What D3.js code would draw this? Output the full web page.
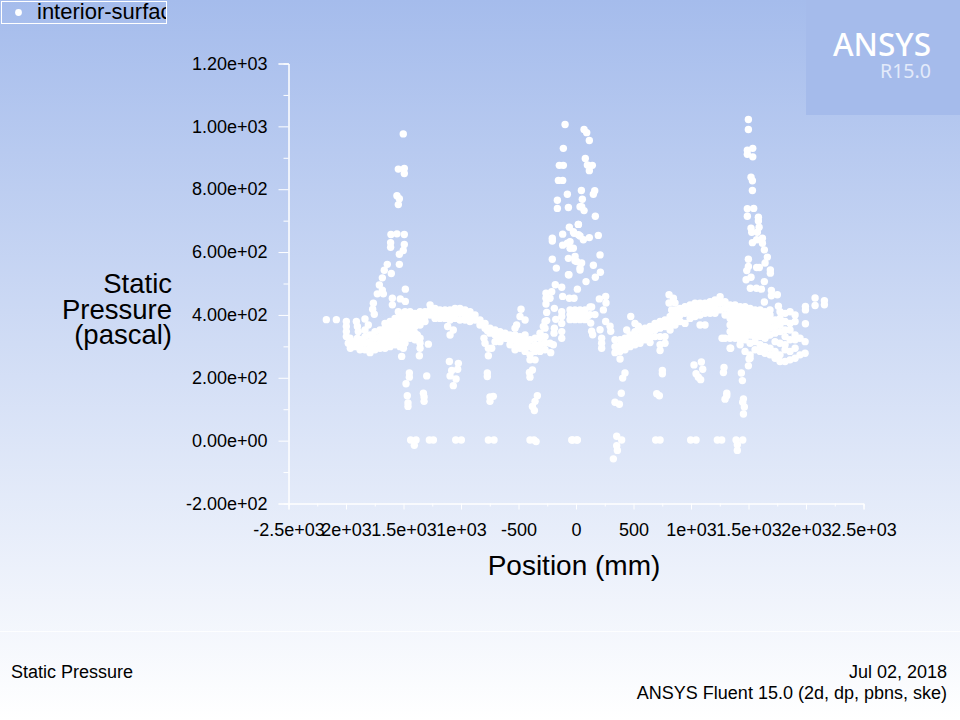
<!DOCTYPE html>
<html>
<head>
<meta charset="utf-8">
<script src="https://cdn.jsdelivr.net/npm/d3@7"></script>
<style>
  html, body { margin: 0; padding: 0; background: #fff; }
  svg { display: block; }
  text { font-family: "Liberation Sans", Arial, sans-serif; fill: #000; }
</style>
</head>
<body>
<div id="chart"></div>
<script>
// Tick values and their labels, as printed on the plot
const xTicks = [-2500, -2000, -1500, -1000, -500, 0, 500, 1000, 1500, 2000, 2500];
const xTickLabels = ["-2.5e+03", "2e+03", "1.5e+03", "1e+03", "-500", "0", "500", "1e+03", "1.5e+03", "2e+03", "2.5e+03"];
const xMinorTicks = [-2250, -1750, -1250, -750, -250, 250, 750, 1250, 1750, 2250];
const yTicks = [-200, 0, 200, 400, 600, 800, 1000, 1200];
const yTickLabels = ["-2.00e+02", "0.00e+00", "2.00e+02", "4.00e+02", "6.00e+02", "8.00e+02", "1.00e+03", "1.20e+03"];
const yMinorTicks = [-100, 100, 300, 500, 700, 900, 1100];

// Points: [position mm, static pressure Pa]
const leftSpike = [
  [-1502,976],[-1545,864],[-1493,866],[-1493,850],[-1557,779],[-1536,770],[-1545,751],[-1609,656],[-1557,658],[-1493,656],
  [-1612,630],[-1612,615],[-1493,624],[-1502,605],[-1536,593],[-1536,561],[-1641,561],[-1667,542],[-1606,532],[-1684,518],
  [-1710,495],[-1684,479],[-1728,467],[-1675,467],[-1484,482],[-1597,453],[-1528,451],[-1484,443],[-1762,437],[-1597,432],
  [-1768,418],[-1754,402],[-1545,410],[-2171,385],[-2084,385],[-1997,379],[-1910,379],[-1835,387],
  [-1997,363],[-1997,347],[-1997,331],[-1901,363],[-1893,347],[-1901,326],[-1835,352],[-1806,368]
];
const leftBand = [
  [-1980,310],[-1962,294],[-1965,326],[-1965,310],[-1922,315],[-1922,299],[-1878,321],[-1878,305],[-1878,289],
  [-1835,331],[-1835,310],[-1835,289],[-1791,336],[-1791,315],[-1791,294],[-1791,280],
  [-1748,347],[-1748,326],[-1748,305],[-1748,289],[-1704,352],[-1704,331],[-1704,310],[-1704,294],
  [-1661,373],[-1661,358],[-1661,336],[-1661,315],[-1661,294],[-1617,379],[-1617,358],[-1617,336],[-1617,315],[-1617,299],
  [-1574,389],[-1574,368],[-1574,347],[-1574,326],[-1574,305],[-1530,400],[-1530,379],[-1530,358],[-1530,336],[-1530,315],[-1530,299],
  [-1487,410],[-1487,389],[-1487,368],[-1487,347],[-1487,326],[-1487,310],[-1443,410],[-1443,389],[-1443,368],[-1443,347],[-1443,326],
  [-1400,405],[-1400,384],[-1400,363],[-1400,342],[-1400,321],[-1356,410],[-1356,389],[-1356,368],[-1356,326],[-1356,310],
  [-1313,410],[-1313,395],[-1313,379],[-1269,432],[-1269,416],[-1269,400],[-1226,421],[-1226,405],[-1226,389],
  [-1183,416],[-1183,400],[-1183,389],[-1139,416],[-1139,400],[-1139,389],[-1096,416],[-1096,400],[-1096,384],
  [-1052,421],[-1052,405],[-1052,389],[-1009,421],[-1009,405],[-1009,384],[-965,416],[-965,400],[-965,384],
  [-922,410],[-922,395],[-922,379],[-878,400],[-878,384],[-835,384],[-835,368],[-791,373],[-791,358],
  [-748,358],[-748,342],[-704,352],[-704,336],[-704,315],[-661,347],[-661,331],[-661,315],[-617,342],[-617,326],
  [-574,336],[-574,321],[-574,305],[-530,336],[-530,321],[-530,299],[-530,289],[-487,331],[-487,310],[-487,294],
  [-443,336],[-443,321],[-443,305],[-443,284],[-400,321],[-400,299],[-400,273],[-400,257],[-356,326],[-356,305],[-356,284],[-356,257],
  [-313,342],[-313,326],[-313,305],[-313,284],[-269,379],[-269,358],[-269,331],[-269,310],[-269,289],[-226,310]
];
const leftBlobFill = [
  [-1684,342],[-1684,321],[-1641,347],[-1641,326],[-1641,305],[-1597,368],[-1597,347],[-1597,326],[-1597,310],
  [-1554,379],[-1554,358],[-1554,336],[-1554,315],[-1510,400],[-1510,379],[-1510,358],[-1510,336],
  [-1467,400],[-1467,379],[-1467,358],[-1467,336],[-1423,400],[-1423,379],[-1423,358],[-1423,336],[-1380,400],[-1380,379],[-1380,336]
];
const leftDrops = [
  [-1284,307],[-1362,270],[-1356,294],[-1516,268],[-1501,294],[-1101,252],[-1023,246],[-1029,227],[-1081,223],[-1095,206],
  [-1043,196],[-1067,175],[-1116,363],[-1067,352],[-1095,336],[-1449,215],[-1449,202],[-1478,181],[-1298,206],[-1467,143],
  [-1461,120],[-1461,109],[-1327,151],[-1321,139],[-1321,125],[-771,215],[-771,204],[-719,141],[-748,139],[-748,125],
  [-379,225],[-405,217],[-400,202],[-336,143],[-356,125],[-379,109],[-362,96],[-800,326],[-791,310],[-762,270],[-733,294],[-762,294],
  [-478,418],[-487,395],[-443,384],[-516,368],[-530,358]
];
const midBandFill = [
  [-770,350],[-725,345],[-682,330],[-640,330],[-595,325],[-552,320],[-508,315],[-465,310],[-420,300],[-378,295],[-335,300]
];
const centerSpike = [
  [-95,1006],[-110,930],[-145,876],[-110,876],[-153,828],[-116,828],[-75,784],[-162,765],[-162,739],[-66,742],[35,744],
  [-206,644],[-206,635],[-116,657],[-58,679],[21,688],[-23,665],[21,655],[-116,622],[-75,628],[-52,612],[-66,580],[-8,586],[6,570],
  [-206,577],[-171,549],[-61,528],[35,549],[-180,496],[-124,488],[70,990],[93,980],[116,955],[81,898],[99,877],[142,876],[116,859],
  [47,796],[151,784],[163,795],[55,768],[49,744],[70,732],[168,714],[20,688],[-17,660],[35,651],[116,646],[194,653],[64,639],
  [-52,633],[-23,612],[209,591],[-9,572],[49,565],[151,558],[35,543],[-66,528],[212,536],[168,520],[87,506],[12,482],[-58,453],[-17,453],
  [-116,459],[203,451],[258,459],[261,438],[238,416],[136,425],[258,379],[128,374],[209,353],[296,364],[302,348],[136,348],[145,337],
  [-261,469],[-211,474],[-261,453],[-226,453],[-261,435],[-188,421],[-255,408],[-124,410],[-124,395],[-176,386],[-255,382],[-124,373],
  [-188,358],[-124,347],[-191,342],[-124,326],[-220,280],[-197,305],[-284,363],
  [-52,416],[-52,401],[-52,385],[-9,416],[-9,401],[-9,385],[35,416],[35,401],[35,385],[78,416],[78,401],[78,385],[122,425],[122,401],[165,401],
  [0,408],[57,408],[100,395]
];
const rightSpike = [
  [1499,1022],[1499,990],[1537,930],[1490,924],[1490,911],[1537,903],[1522,838],[1534,827],[1534,796],[1490,738],[1545,739],[1490,714],
  [1586,711],[1586,699],[1592,679],[1522,676],[1528,663],[1577,663],[1621,644],[1571,639],[1534,630],[1621,628],[1638,607],[1664,584],
  [1499,577],[1644,565],[1571,551],[1594,551],[1499,554],[1485,541],[1690,543],[1690,533],[1522,520],[1479,512],[1638,506],[1516,485],
  [1569,485],[1612,482],[1699,478],[1699,461],[1751,464],[1638,441],[1760,428],[2079,454],[2079,430],[2160,445],[2160,432],[1995,427],[1995,416],[1995,372]
];
const rightBand = [
  [809,464],[847,453],[809,438],[861,438],[832,416],[876,416],[476,395],[513,373],[542,364],[441,352],[223,326],[223,310],[223,294],
  [339,321],[339,299],[339,280],[383,321],[383,299],[383,284],[383,260],[426,326],[426,305],[426,289],[470,336],[470,315],[470,299],
  [513,347],[513,326],[513,305],[557,352],[557,331],[557,310],[600,358],[600,336],[600,321],[644,363],[644,347],[644,326],[644,312],
  [687,373],[687,352],[687,331],[731,379],[731,358],[731,331],[731,305],[731,287],[774,384],[774,363],[774,331],[774,310],
  [818,395],[818,373],[818,352],[861,410],[861,389],[861,368],[905,421],[905,400],[905,379],[948,426],[948,405],[948,373],
  [992,432],[992,410],[992,389],[1035,437],[1035,416],[1035,395],[1079,437],[1079,421],[1079,400],[1079,368],[1122,437],[1122,421],[1122,405],[1122,368],
  [1166,442],[1166,421],[1166,405],[1209,448],[1209,426],[1209,405],[1253,458],[1253,437],[1253,416],[1296,442],[1296,421],[1296,400],[1296,326],
  [1340,432],[1340,410],[1340,389],[1340,368],[1340,347],[1340,326],[1340,294],[1383,432],[1383,410],[1383,389],[1383,368],[1383,347],[1383,326],
  [1427,426],[1427,405],[1427,384],[1427,363],[1427,342],[1427,321],[1427,305],[1470,426],[1470,405],[1470,384],[1470,363],[1470,342],[1470,321],[1470,284],
  [1514,421],[1514,400],[1514,379],[1514,358],[1514,336],[1514,310],[1514,273],[1514,262],[1557,416],[1557,395],[1557,373],[1557,352],[1557,331],[1557,315],[1557,289],
  [1601,416],[1601,395],[1601,373],[1601,352],[1601,331],[1601,305],[1601,284],[1644,410],[1644,389],[1644,368],[1644,347],[1644,326],[1644,299],[1644,278],
  [1687,416],[1687,400],[1687,379],[1687,358],[1687,336],[1687,294],[1687,273],[1731,384],[1731,363],[1731,342],[1731,315],[1731,284],[1731,262],
  [1774,410],[1774,389],[1774,368],[1774,347],[1774,310],[1774,273],[1774,252],[1818,405],[1818,379],[1818,352],[1818,331],[1818,305],[1818,289],[1818,252],
  [1861,410],[1861,373],[1861,352],[1861,321],[1861,284],[1861,257],[1905,400],[1905,379],[1905,336],[1905,321],[1905,294],[1905,262],
  [1948,326],[1948,273],[1992,315],[1992,278],[1270,326],[1345,294],[1505,260],[1499,238]
];
const rightBandFill = [
  [361,300],[404,310],[448,315],[492,325],[535,330],[578,345],[622,350],[665,355],[709,365],[752,365],[796,380],[840,385],
  [883,400],[927,410],[970,415],[1014,420],[1057,425],[1100,425],[1144,430],[1187,435],[1231,440],
  [1360,421],[1360,400],[1360,379],[1360,358],[1360,336],[1403,421],[1403,400],[1403,379],[1403,358],[1403,336],
  [1447,421],[1447,400],[1447,379],[1447,358],[1447,336],[1490,421],[1490,400],[1490,379],[1490,358],[1490,336],
  [1534,410],[1534,400],[1534,379],[1534,358],[1534,336],[1577,400],[1577,379],[1577,358],[1577,336],
  [1621,400],[1621,379],[1621,358],[1621,336],[1664,379],[1664,358],[1664,336]
];
const rightDrops = [
  [426,215],[406,199],[751,223],[751,213],[1026,241],[1090,250],[1102,227],[1044,213],[1064,202],[1084,194],[1287,233],[1282,217],
  [1438,215],[1447,191],[394,151],[339,122],[377,116],[702,149],[725,143],[1311,151],[1311,143],[1296,132],[1456,133],[1450,122],[1464,107],[1456,85]
];
const zeroRow = [
  [-1438,2],[-1391,2],[-1406,-15],[-1275,2],[-1240,2],[-1046,2],[-997,2],[-762,2],[-713,2],[-400,2],[-365,2],[-347,-3],[-37,2],[6,2],
  [-29,2],[12,2],[354,14],[397,2],[354,-16],[360,-31],[325,-58],[693,2],[731,2],[997,2],[1044,2],[1229,2],[1267,2],[1392,2],[1450,2],[1403,-13],[1403,-31]
];

const width = 960, height = 720;
const points = [].concat(leftSpike, leftBand, leftBlobFill, leftDrops, midBandFill, centerSpike,
  rightSpike, rightBand, rightBandFill, rightDrops, zeroRow);

const svg = d3.select("#chart").append("svg")
  .attr("width", width)
  .attr("height", height);

// Background gradient
const gradient = svg.append("defs").append("linearGradient")
  .attr("id", "bg")
  .attr("x1", 0).attr("y1", 0).attr("x2", 0).attr("y2", 1);
gradient.append("stop").attr("offset", 0).attr("stop-color", "#a5bcec");
gradient.append("stop").attr("offset", 1).attr("stop-color", "#ffffff");
svg.append("rect").attr("width", width).attr("height", height).attr("fill", "url(#bg)");

// Logo panel
svg.append("rect").attr("x", 806).attr("y", 0).attr("width", 154).attr("height", 115).attr("fill", "#a5bbeb");
svg.append("text").attr("x", 833).attr("y", 56)
  .attr("textLength", 98).attr("lengthAdjust", "spacingAndGlyphs")
  .style("font-family", "'Noto Sans'").style("font-size", "33px").style("font-weight", 500)
  .style("fill", "#fff").text("ANSYS");
svg.append("text").attr("x", 880).attr("y", 78)
  .attr("textLength", 51).attr("lengthAdjust", "spacingAndGlyphs")
  .style("font-family", "'Noto Sans'").style("font-size", "20px")
  .style("fill", "#e3eafa").text("R15.0");

// Footer panel edge
svg.append("line").attr("x1", 0).attr("x2", width).attr("y1", 631.5).attr("y2", 631.5)
  .attr("stroke", "#ffffff").attr("stroke-opacity", 0.8);

// Scales
const x = d3.scaleLinear().domain([-2500, 2500]).range([288.5, 863.5]);
const y = d3.scaleLinear().domain([-200, 1200]).range([503.5, 63.5]);

// Axes
const yAxis = svg.append("g").attr("transform", "translate(288.5,0)")
  .call(d3.axisLeft(y).tickValues(yTicks).tickSize(10).tickPadding(11)
    .tickFormat((d, i) => yTickLabels[i]));
const yMinor = svg.append("g").attr("transform", "translate(288.5,0)")
  .call(d3.axisLeft(y).tickValues(yMinorTicks).tickSize(5).tickFormat(""));
const xAxis = svg.append("g").attr("transform", "translate(0,503.5)")
  .call(d3.axisBottom(x).tickValues(xTicks).tickSize(6).tickPadding(14)
    .tickFormat((d, i) => xTickLabels[i]));
const xMinor = svg.append("g").attr("transform", "translate(0,503.5)")
  .call(d3.axisBottom(x).tickValues(xMinorTicks).tickSize(3).tickFormat(""));

[yAxis, yMinor, xAxis, xMinor].forEach((g) => {
  g.selectAll(".domain").attr("stroke", "#fff");
  g.selectAll("line").attr("stroke", "#fff");
  g.selectAll("text").style("font-size", "18px").style("font-family", "'Liberation Sans'").attr("fill", "#000");
});

// Points
svg.append("g").selectAll("circle")
  .data(points)
  .enter()
  .append("circle")
  .attr("cx", (d) => x(d[0]))
  .attr("cy", (d) => y(d[1]))
  .attr("r", 3.7)
  .attr("fill", "#fff");

// Axis titles
svg.append("text").attr("x", 574).attr("y", 575).attr("text-anchor", "middle")
  .style("font-size", "28px").text("Position (mm)");
["Static", "Pressure", "(pascal)"].forEach((line, i) => {
  svg.append("text").attr("x", 172).attr("y", 293 + i * 25.5).attr("text-anchor", "end")
    .style("font-size", "27.5px").text(line);
});

// Legend, the box cuts the name off
svg.append("clipPath").attr("id", "legendClip").append("rect")
  .attr("x", 1).attr("y", 1).attr("width", 165).attr("height", 22);
svg.append("rect").attr("x", 1.5).attr("y", 1.5).attr("width", 165).attr("height", 22)
  .attr("fill", "none").attr("stroke", "#fff");
svg.append("circle").attr("cx", 18.5).attr("cy", 12.5).attr("r", 3.4).attr("fill", "#fff");
svg.append("text").attr("x", 37).attr("y", 19).attr("clip-path", "url(#legendClip)")
  .style("font-size", "22px").text("interior-surface");

// Footer text
svg.append("text").attr("x", 11).attr("y", 678).style("font-size", "18px").text("Static Pressure");
svg.append("text").attr("x", 947).attr("y", 678).attr("text-anchor", "end").style("font-size", "18px").text("Jul 02, 2018");
svg.append("text").attr("x", 947).attr("y", 699).attr("text-anchor", "end").style("font-size", "18px").text("ANSYS Fluent 15.0 (2d, dp, pbns, ske)");
</script>
</body>
</html>
